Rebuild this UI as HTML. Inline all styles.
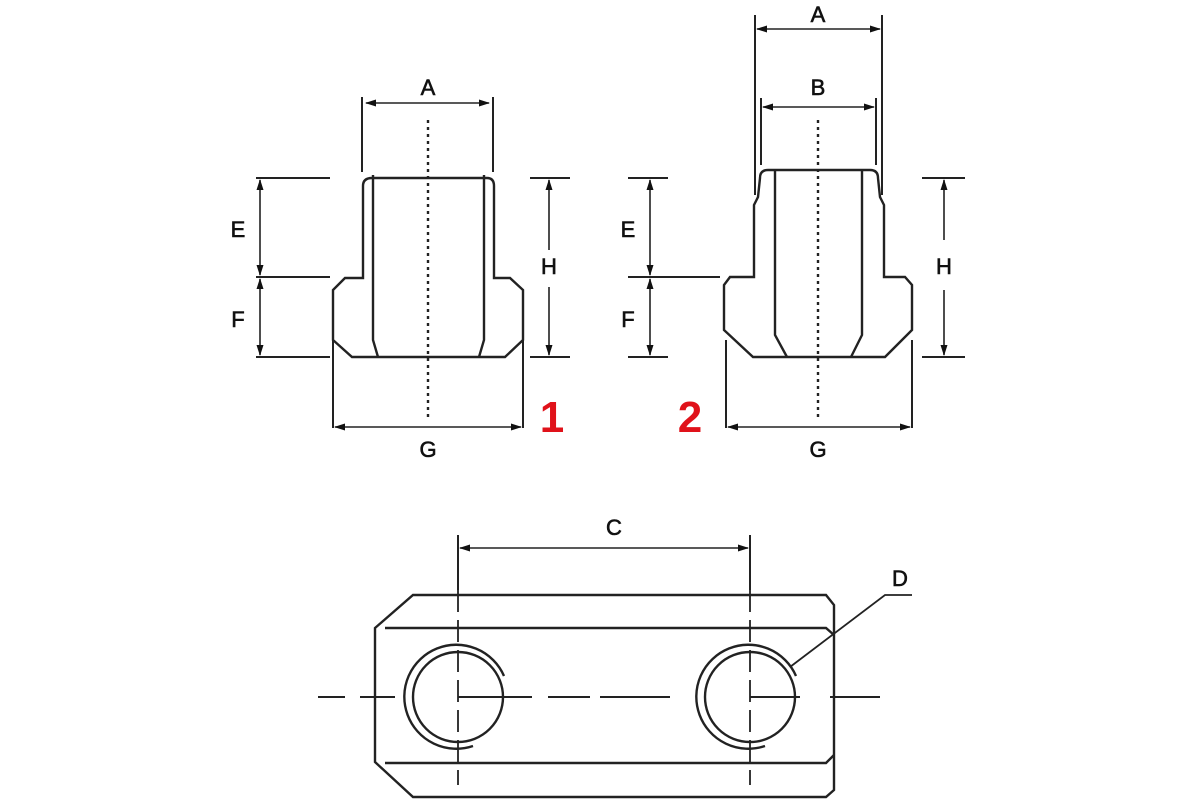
<!DOCTYPE html>
<html><head><style>body{margin:0;background:#fff}svg{display:block}</style></head><body>
<svg width="1200" height="800" xmlns="http://www.w3.org/2000/svg" font-family="Liberation Sans, sans-serif">
<g stroke="#222" stroke-width="2.4" fill="none">
<!-- Part 1 -->
<path d="M372,178 L487,178 Q494,178 494,186 L494,278 L510,278 L523,290 L523,340 L505,357 L352,357 L333,340 L333,290 L345,278 L363,278 L363,186 Q363,178 372,178"/>
<path d="M373,175 L373,340 L378,357 M484,175 L484,340 L479,357"/>
<path d="M362,97 V172 M493,97 V172 M256,178 H330 M256,277 H330 M256,357 H330 M530,178 H570 M530,357 H570 M333,340 V428 M523,340 V428" stroke-width="2"/>
<path d="M366,103 H489 M260,180 V275 M260,279 V355 M549,180 V250 M549,287 V355 M335,427 H521" stroke-width="1.6"/>
<path d="M428,120 V418" stroke-dasharray="3,4"/>
<!-- Part 2 -->
<path d="M768,170 L870,170 Q878,170 878,178 L880,197 L884,205 L884,277 L905,277 L912,285 L912,330 L885,357 L753,357 L724,330 L724,285 L730,277 L754,277 L754,205 L758,197 L760,178 Q760,170 768,170"/>
<path d="M775,170 L775,335 L787,357 M862,170 L862,335 L851,357"/>
<path d="M755,15 V195 M882,15 V195 M761,98 V165 M876,98 V165 M628,178 H668 M628,277 H720 M628,357 H668 M922,178 H965 M922,357 H965 M726,340 V428 M912,340 V428" stroke-width="2"/>
<path d="M757,29 H880 M763,107 H874 M650,180 V275 M650,279 V355 M944,180 V240 M944,290 V355 M728,427 H910" stroke-width="1.6"/>
<path d="M818,120 V418" stroke-dasharray="3,4"/>
<!-- Bottom -->
<path d="M413,595 H826 L834,605 V790 L826,797 H413 L375,762 V628 Z"/>
<path d="M385,628 H826 L834,635 M385,763 H826 L834,755"/>
<circle cx="458" cy="697" r="45"/>
<circle cx="750" cy="697" r="45"/>
<path d="M504,676 A52,52 0 1 0 473,746 M796,676 A52,52 0 1 0 765,746"/>
<path d="M458,535 V590 M750,535 V590" stroke-width="2"/>
<path d="M460,548 H748" stroke-width="1.6"/>
<path d="M458,590 V785 M750,590 V785" stroke-dasharray="22,8" stroke-width="1.8"/>
<path d="M458,697 H532 M548,697 H590 M600,697 H670 M750,697 H800 M318,697 H345 M360,697 H395 M830,697 H880" stroke-width="2"/>
<path d="M790,667 L885,595 H912" stroke-width="1.8"/>
</g>
<g fill="#111">
<!-- horizontal left heads -->
<path d="M365,103l11,-3.5v7z M334,427l11,-3.5v7z M756,29l11,-3.5v7z M762,107l11,-3.5v7z M727,427l11,-3.5v7z M459,548l11,-3.5v7z"/>
<!-- horizontal right heads -->
<path d="M490,103l-11,-3.5v7z M522,427l-11,-3.5v7z M881,29l-11,-3.5v7z M875,107l-11,-3.5v7z M911,427l-11,-3.5v7z M749,548l-11,-3.5v7z"/>
<!-- vertical up heads -->
<path d="M260,179l-3.5,11h7z M260,278l-3.5,11h7z M549,179l-3.5,11h7z M650,179l-3.5,11h7z M650,278l-3.5,11h7z M944,179l-3.5,11h7z"/>
<!-- vertical down heads -->
<path d="M260,276l-3.5,-11h7z M260,356l-3.5,-11h7z M549,356l-3.5,-11h7z M650,276l-3.5,-11h7z M650,356l-3.5,-11h7z M944,356l-3.5,-11h7z"/>
</g>
<g font-size="22" fill="#111" text-anchor="middle" stroke="#111" stroke-width="0.6">
<text x="428" y="95">A</text>
<text x="238" y="237">E</text><text x="238" y="327">F</text>
<text x="549" y="274">H</text><text x="428" y="457">G</text>
<text x="818" y="22">A</text><text x="818" y="95">B</text>
<text x="628" y="237">E</text><text x="628" y="327">F</text>
<text x="944" y="274">H</text><text x="818" y="457">G</text>
<text x="614" y="535">C</text><text x="900" y="586">D</text>
</g>
<g font-size="44" fill="#e0121a" font-weight="bold" text-anchor="middle">
<text x="552" y="432">1</text><text x="690" y="432">2</text>
</g>
</svg>
</body></html>
